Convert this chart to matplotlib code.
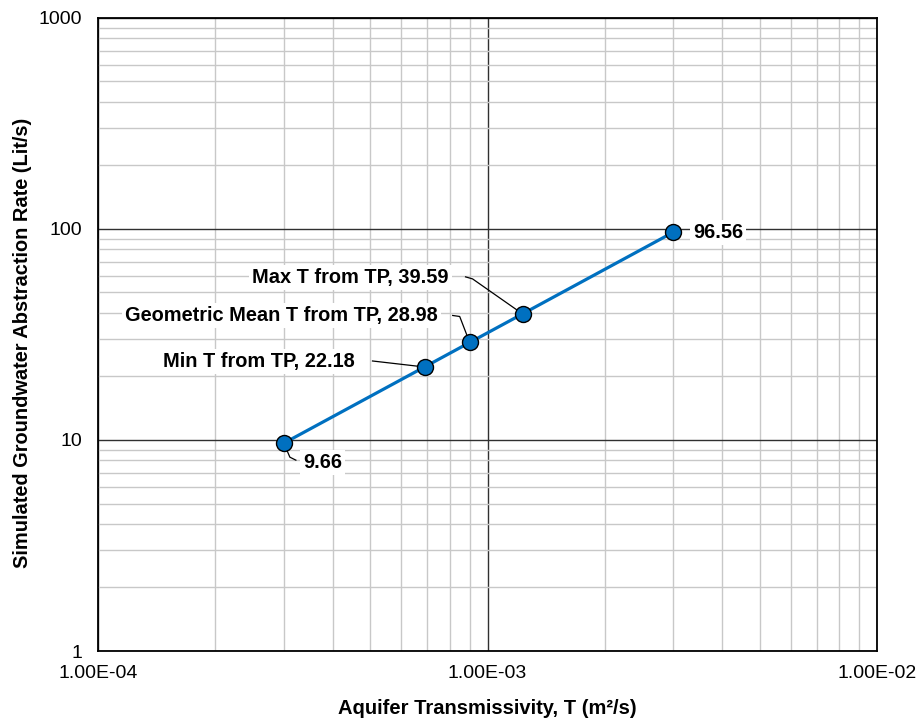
import matplotlib.pyplot as plt
from matplotlib.ticker import LogLocator, NullFormatter, FixedLocator

plt.rcParams.update({"font.family": ["Liberation Sans", "DejaVu Sans"], "font.size": 14})

# data
transmissivity = [3.0e-4, 6.89e-4, 9.0e-4, 1.23e-3, 3.0e-3]
abstraction = [9.66, 22.18, 28.98, 39.59, 96.56]
point_labels = ["9.66", "Min T from TP, 22.18", "Geometric Mean T from TP, 28.98",
                "Max T from TP, 39.59", "96.56"]
x_ticks = [1e-4, 1e-3, 1e-2]
x_tick_labels = ["1.00E-04", "1.00E-03", "1.00E-02"]
y_ticks = [1, 10, 100, 1000]
y_tick_labels = ["1", "10", "100", "1000"]

fig = plt.figure(figsize=(9.17, 7.18), dpi=100)
ax = fig.add_axes([0.1069, 0.0933, 0.8495, 0.8817])
ax.set_xscale("log")
ax.set_yscale("log")
ax.set_xlim(1e-4, 1e-2)
ax.set_ylim(1, 1000)

ax.xaxis.set_major_locator(FixedLocator(x_ticks))
ax.set_xticklabels(x_tick_labels)
ax.yaxis.set_major_locator(FixedLocator(y_ticks))
ax.set_yticklabels(y_tick_labels)
ax.xaxis.set_minor_locator(LogLocator(base=10, subs=range(2, 10)))
ax.yaxis.set_minor_locator(LogLocator(base=10, subs=range(2, 10)))
ax.xaxis.set_minor_formatter(NullFormatter())
ax.yaxis.set_minor_formatter(NullFormatter())

ax.grid(which="minor", color="#c8c8c8", lw=1.0)
ax.grid(which="major", color="#303030", lw=1.0)
ax.set_axisbelow(True)
ax.tick_params(which="both", length=0, labelsize=14)
ax.tick_params(axis="x", pad=10)
ax.tick_params(axis="y", pad=11.5)
for spine in ax.spines.values():
    spine.set_linewidth(1.3)
    spine.set_color("black")

ax.plot(transmissivity, abstraction, color="#0070C0", lw=2.3, marker="o",
        markersize=11.5, markerfacecolor="#0070C0", markeredgecolor="black",
        markeredgewidth=1.0, zorder=5)

# label offsets in pixels (text anchor), with leader paths
offsets = [
    (19, -19, "left", [(6, -14), (12, -17)]),
    (-70, 5, "right", [(-52, 6)]),
    (-32, 27, "right", [(-10, 26), (-17, 27)]),
    (-74, 36, "right", [(-50, 35), (-57, 37)]),
    (20, 0, "left", None),
]
bbox = dict(boxstyle="square,pad=0.15", facecolor="white", edgecolor="none")
for x, y, lab, (dx, dy, ha, path) in zip(transmissivity, abstraction, point_labels, offsets):
    ax.annotate(lab, xy=(x, y), xytext=(dx, dy), textcoords="offset pixels",
                ha=ha, va="center", fontsize=14.4, fontweight="bold", bbox=bbox, zorder=6)
    if path:
        disp = ax.transData.transform((x, y))
        inv = ax.transData.inverted()
        pts = [(0, 0)] + path
        data = [inv.transform((disp[0] + px, disp[1] + py)) for px, py in pts]
        ax.plot([d[0] for d in data], [d[1] for d in data], color="black", lw=0.9, zorder=4)

ax.set_xlabel("Aquifer Transmissivity, T (m²/s)", fontsize=14.5, fontweight="bold", labelpad=12)
ax.set_ylabel("Simulated Groundwater Abstraction Rate (Lit/s)", fontsize=14.4,
              fontweight="bold")
ax.yaxis.set_label_coords(-0.085, 0.487)

fig.savefig("out.png", dpi=100)
